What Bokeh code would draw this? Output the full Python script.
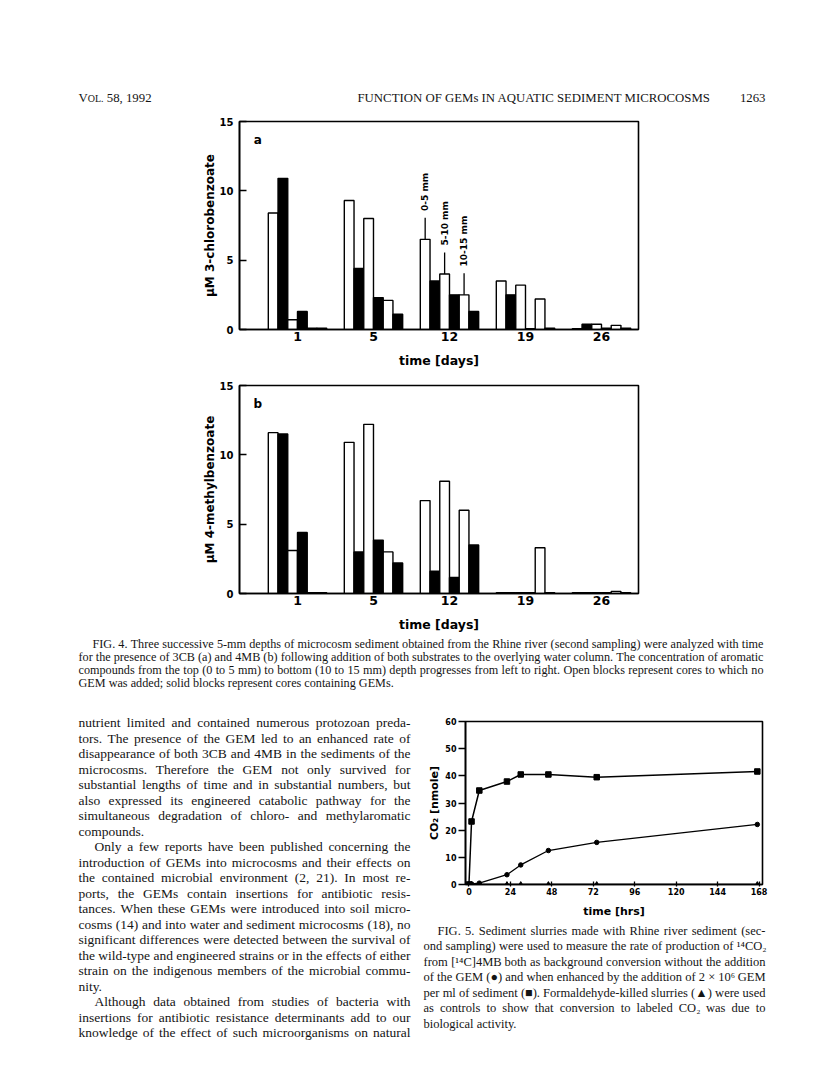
import math
from bokeh.plotting import figure
from bokeh.models import Range1d, FixedTicker, Label
from bokeh.layouts import column, row
from bokeh.core.properties import value
from bokeh.embed import file_html
from bokeh.resources import INLINE

# ---------------- data ----------------
day_labels = ["1", "5", "12", "19", "26"]
depth_labels = ["0-5 mm", "5-10 mm", "10-15 mm"]

# Fig 4a: uM 3-chlorobenzoate (open = no GEM, gem = solid)
cb_open_0_5 = [8.4, 9.3, 6.5, 3.5, 0.05]
cb_gem_0_5 = [10.9, 4.4, 3.5, 2.5, 0.38]
cb_open_5_10 = [0.7, 8.0, 4.0, 3.2, 0.38]
cb_gem_5_10 = [1.3, 2.3, 2.5, 0.05, 0.1]
cb_open_10_15 = [0.1, 2.1, 2.5, 2.2, 0.3]
cb_gem_10_15 = [0.1, 1.1, 1.3, 0.1, 0.1]

# Fig 4b: uM 4-methylbenzoate
mb_open_0_5 = [11.6, 10.9, 6.7, 0.05, 0.05]
mb_gem_0_5 = [11.5, 3.0, 1.6, 0.05, 0.05]
mb_open_5_10 = [3.1, 12.2, 8.1, 0.05, 0.05]
mb_gem_5_10 = [4.4, 3.85, 1.15, 0.05, 0.05]
mb_open_10_15 = [0.05, 3.0, 6.0, 3.3, 0.15]
mb_gem_10_15 = [0.05, 2.2, 3.5, 0.05, 0.05]

y_ticks_4 = [0, 5, 10, 15]

# Fig 5: CO2 [nmole] vs time [hrs]
hours = [0, 1.5, 6, 22, 30, 46, 74, 167]
co2_gem = [0, 23.2, 34.6, 37.9, 40.5, 40.5, 39.5, 41.6]
co2_background = [0, 0.2, 0.5, 3.6, 7.2, 12.5, 15.5, 22.1]
co2_killed = [0, 0, 0, 0, 0, 0, 0, 0]
hour_ticks = [0, 24, 48, 72, 96, 120, 144, 168]
co2_ticks = [0, 10, 20, 30, 40, 50, 60]

# ---------------- texts ----------------
header_mid = "FUNCTION OF GEMs IN AQUATIC SEDIMENT MICROCOSMS"
header_right = "1263"

caption4 = [
    "FIG. 4. Three successive 5-mm depths of microcosm sediment obtained from the Rhine river (second sampling) were analyzed with time",
    "for the presence of 3CB (a) and 4MB (b) following addition of both substrates to the overlying water column. The concentration of aromatic",
    "compounds from the top (0 to 5 mm) to bottom (10 to 15 mm) depth progresses from left to right. Open blocks represent cores to which no",
    "GEM was added; solid blocks represent cores containing GEMs.",
]
body = [
    "nutrient limited and contained numerous protozoan preda-",
    "tors. The presence of the GEM led to an enhanced rate of",
    "disappearance of both 3CB and 4MB in the sediments of the",
    "microcosms. Therefore the GEM not only survived for",
    "substantial lengths of time and in substantial numbers, but",
    "also expressed its engineered catabolic pathway for the",
    "simultaneous degradation of chloro- and methylaromatic",
    "compounds.",
    "Only a few reports have been published concerning the",
    "introduction of GEMs into microcosms and their effects on",
    "the contained microbial environment (2, 21). In most re-",
    "ports, the GEMs contain insertions for antibiotic resis-",
    "tances. When these GEMs were introduced into soil micro-",
    "cosms (14) and into water and sediment microcosms (18), no",
    "significant differences were detected between the survival of",
    "the wild-type and engineered strains or in the effects of either",
    "strain on the indigenous members of the microbial commu-",
    "nity.",
    "Although data obtained from studies of bacteria with",
    "insertions for antibiotic resistance determinants add to our",
    "knowledge of the effect of such microorganisms on natural",
]
body_indent = [0, 0, 0, 0, 0, 0, 0, 0, 1, 0, 0, 0, 0, 0, 0, 0, 0, 0, 1, 0, 0]
body_last = [0, 0, 0, 0, 0, 0, 0, 1, 0, 0, 0, 0, 0, 0, 0, 0, 0, 1, 0, 0, 0]
caption5 = [
    "FIG. 5. Sediment slurries made with Rhine river sediment (sec-",
    "ond sampling) were used to measure the rate of production of \u00b9\u2074CO\u2082",
    "from [\u00b9\u2074C]4MB both as background conversion without the addition",
    "of the GEM (\u25cf) and when enhanced by the addition of 2 \u00d7 10\u2076 GEM",
    "per ml of sediment (\u25a0). Formaldehyde-killed slurries (\u25b2) were used",
    "as controls to show that conversion to labeled CO\u2082 was due to",
    "biological activity.",
]

# ---------------- helpers ----------------
TW = {" ": 250, ".": 250, ",": 250, ";": 278, ":": 278, "-": 333, "(": 333, ")": 333,
      "[": 333, "]": 333, "\u00d7": 564, "\u00b9": 300, "\u2074": 300, "\u2076": 300,
      "\u2082": 300, "\u25cf": 600, "\u25a0": 600, "\u25b2": 1000}
for ch, w in zip("abcdefghijklmnopqrstuvwxyz",
                 [444, 500, 444, 500, 444, 333, 500, 500, 278, 278, 500, 278, 778, 500, 500,
                  500, 500, 333, 389, 278, 500, 500, 722, 500, 500, 444]):
    TW[ch] = w
for ch, w in zip("ABCDEFGHIJKLMNOPQRSTUVWXYZ",
                 [722, 667, 667, 722, 611, 556, 722, 722, 333, 389, 722, 611, 889, 722, 722,
                  556, 722, 667, 556, 611, 722, 722, 944, 722, 722, 611]):
    TW[ch] = w
for ch in "0123456789":
    TW[ch] = 500


def em(s):
    return sum(TW.get(c, 500) for c in s) / 1000.0


SERIF = value("Liberation Serif")
SANS = "DejaVu Sans"
INK = "#141414"
ALL_FIGS = []


def canvas(w, h):
    p = figure(width=w, height=h, x_range=Range1d(0, w), y_range=Range1d(h, 0),
               x_axis_type=None, y_axis_type=None, output_backend="svg",
               toolbar_location=None, min_border=0)
    p.outline_line_color = None
    p.background_fill_color = "white"
    p.border_fill_color = "white"
    ALL_FIGS.append(p)
    return p


def put(p, x, y, s, fs, align="left"):
    p.text(x=[x], y=[y], text=[s], text_font=SERIF, text_font_size=value(f"{fs:.2f}px"),
           text_color=INK, text_baseline="middle", text_align=align)


def text_block(p, lines, x0, x1, y0, dy, indents, lasts, indent_px):
    fits = []
    for line, ind, last in zip(lines, indents, lasts):
        if not last:
            fits.append((x1 - x0 - ind * indent_px) / em(line))
    fs = min(fits)
    xs, ys, ts = [], [], []
    for i, (line, ind, last) in enumerate(zip(lines, indents, lasts)):
        words = line.split()
        left = x0 + ind * indent_px
        ws = [em(w) * fs for w in words]
        if last or len(words) < 2:
            gap = em(" ") * fs
        else:
            gap = (x1 - left - sum(ws)) / (len(words) - 1)
        x = left
        for w, wd in zip(words, ws):
            xs.append(x)
            ys.append(y0 + i * dy)
            ts.append(w)
            x += wd + gap
    p.text(x=xs, y=ys, text=ts, text_font=SERIF, text_font_size=value(f"{fs:.2f}px"),
           text_color=INK, text_baseline="middle", text_align="left")


# ---------------- header ----------------
hdr = canvas(808, 108)
HF = 12.8
HS = 10.0
x = 78
put(hdr, x, 97, "V", HF)
x += em("V") * HF
put(hdr, x, 97.8, "OL.", HS)
x += em("OL.") * HS + em(" ") * HF
put(hdr, x, 97, "58, 1992", HF)
put(hdr, 357, 97, header_mid, HF)
put(hdr, 765, 97, header_right, HF, align="right")

# ---------------- Fig 4 panels ----------------
BW = 0.128          # bar width in group-spacing units
X0, X1 = -0.763, 4.487


def bar_panel(opens, gems, ylabel, letter, h, top_b, bot_b, annotate):
    p = figure(width=808, height=h, x_range=Range1d(X0, X1), y_range=Range1d(0, 15),
               min_border_left=239, min_border_right=170, min_border_top=top_b,
               min_border_bottom=bot_b, output_backend="svg", toolbar_location=None)
    ALL_FIGS.append(p)
    p.grid.visible = False
    p.outline_line_color = "black"
    p.outline_line_width = 1.6
    p.background_fill_color = "white"
    p.border_fill_color = "white"
    idx = list(range(len(day_labels)))
    for d in range(3):
        xo = [i + (2 * d - 2.5) * BW for i in idx]
        xg = [i + (2 * d + 1 - 2.5) * BW for i in idx]
        p.vbar(x=xo, top=opens[d], width=BW, bottom=0, fill_color="white",
               line_color="black", line_width=1.4)
        p.vbar(x=xg, top=gems[d], width=BW, bottom=0, fill_color="black",
               line_color="black", line_width=1.4)
    if annotate:
        g = 2
        for d in range(3):
            xb = g + (2 * d - 2.5) * BW
            v = opens[d][g]
            p.segment(x0=[xb], y0=[v], x1=[xb], y1=[v + 1.55], line_color="black", line_width=1.3)
            p.text(x=[xb], y=[v + 2.05], text=[depth_labels[d]], angle=math.pi / 2,
                   text_font=value(SANS), text_font_style="bold", text_font_size=value("9px"),
                   text_align="left", text_baseline="middle", text_color="black")
    p.add_layout(Label(x=X0 + 0.24, y=15 - 1.3, text=letter, text_font=SANS,
                       text_font_style="bold", text_font_size="12px", text_align="center",
                       text_baseline="middle", text_color="black"))
    xa = p.xaxis[0]
    xa.ticker = FixedTicker(ticks=idx)
    xa.major_label_overrides = {i: lab for i, lab in zip(idx, day_labels)}
    xa.major_tick_in = 0
    xa.major_tick_out = 0
    xa.minor_tick_in = 0
    xa.minor_tick_out = 0
    xa.major_label_standoff = 2
    xa.axis_label = "time [days]"
    xa.axis_label_standoff = 9
    ya = p.yaxis[0]
    ya.ticker = FixedTicker(ticks=y_ticks_4)
    ya.major_tick_in = 7
    ya.major_tick_out = 0
    ya.minor_tick_in = 0
    ya.minor_tick_out = 0
    ya.major_label_standoff = 6
    ya.axis_label = ylabel
    ya.axis_label_standoff = 0
    for ax in (xa, ya):
        ax.axis_line_width = 1.6
        ax.major_tick_line_width = 1.4
        ax.major_label_text_font = SANS
        ax.major_label_text_font_style = "bold"
        ax.axis_label_text_font = SANS
        ax.axis_label_text_font_style = "bold"
        ax.axis_label_text_font_size = "12.5px"
        ax.major_label_text_color = "black"
        ax.axis_label_text_color = "black"
    ya.axis_label_text_font_size = "12px"
    xa.major_label_text_font_size = "12.5px"
    ya.major_label_text_font_size = "10px"
    return p


fig4a = bar_panel([cb_open_0_5, cb_open_5_10, cb_open_10_15],
                  [cb_gem_0_5, cb_gem_5_10, cb_gem_10_15],
                  "\u03bcM 3-chlorobenzoate", "a", 264, 13, 43, True)
fig4b = bar_panel([mb_open_0_5, mb_open_5_10, mb_open_10_15],
                  [mb_gem_0_5, mb_gem_5_10, mb_gem_10_15],
                  "\u03bcM 4-methylbenzoate", "b", 262, 13, 41, False)

# ---------------- Fig 4 caption ----------------
cap4 = canvas(808, 72)
text_block(cap4, caption4, 78, 763, 9, 13.2, [1, 0, 0, 0], [0, 0, 0, 1], 14)

# ---------------- body text ----------------
bodyc = canvas(416, 362)
text_block(bodyc, body, 78, 410, 16, 15.5, body_indent, body_last, 16)

# ---------------- Fig 5 ----------------
fig5 = figure(width=392, height=214, x_range=Range1d(-2, 170), y_range=Range1d(0, 60),
              min_border_left=49, min_border_right=46, min_border_top=15, min_border_bottom=32,
              output_backend="svg", toolbar_location=None)
ALL_FIGS.append(fig5)
fig5.grid.visible = False
fig5.outline_line_color = "black"
fig5.outline_line_width = 1.6
fig5.background_fill_color = "white"
fig5.border_fill_color = "white"
fig5.line(hours, co2_background, line_color="black", line_width=1.3)
fig5.scatter(hours, co2_background, marker="circle", size=4.5, fill_color="black", line_color="black")
fig5.line(hours, co2_gem, line_color="black", line_width=1.5)
fig5.scatter(hours, co2_gem, marker="square", size=5.5, fill_color="black", line_color="black")
fig5.line(hours, co2_killed, line_color="black", line_width=1.3)
fig5.scatter(hours, co2_killed, marker="triangle", size=5, fill_color="black", line_color="black")
fx = fig5.xaxis[0]
fx.ticker = FixedTicker(ticks=hour_ticks)
fx.major_tick_in = 3
fx.major_tick_out = 2
fx.minor_tick_in = 0
fx.minor_tick_out = 0
fx.major_label_standoff = 1
fx.axis_label = "time [hrs]"
fx.axis_label_standoff = 7
fy = fig5.yaxis[0]
fy.ticker = FixedTicker(ticks=co2_ticks)
fy.major_tick_in = 0
fy.major_tick_out = 7
fy.minor_tick_in = 0
fy.minor_tick_out = 0
fy.major_label_standoff = 2
fy.axis_label = "CO\u2082 [nmole]"
fy.axis_label_standoff = 1
for ax in (fx, fy):
    ax.axis_line_width = 1.6
    ax.major_tick_line_width = 1.3
    ax.major_label_text_font = SANS
    ax.major_label_text_font_style = "bold"
    ax.major_label_text_font_size = "8px"
    ax.axis_label_text_font = SANS
    ax.axis_label_text_font_style = "bold"
    ax.axis_label_text_font_size = "11px"
    ax.major_label_text_color = "black"
    ax.axis_label_text_color = "black"

# ---------------- Fig 5 caption ----------------
cap5 = canvas(392, 148)
text_block(cap5, caption5, 7, 349, 10, 15.5, [1, 0, 0, 0, 0, 0, 0], [0, 0, 0, 0, 0, 0, 1], 14)

for f in ALL_FIGS:
    try:
        f.frame_align = False
    except Exception:
        pass

layout = column(hdr, fig4a, fig4b, cap4, row(bodyc, column(fig5, cap5)))
open("out.html", "w").write(file_html(layout, INLINE))
